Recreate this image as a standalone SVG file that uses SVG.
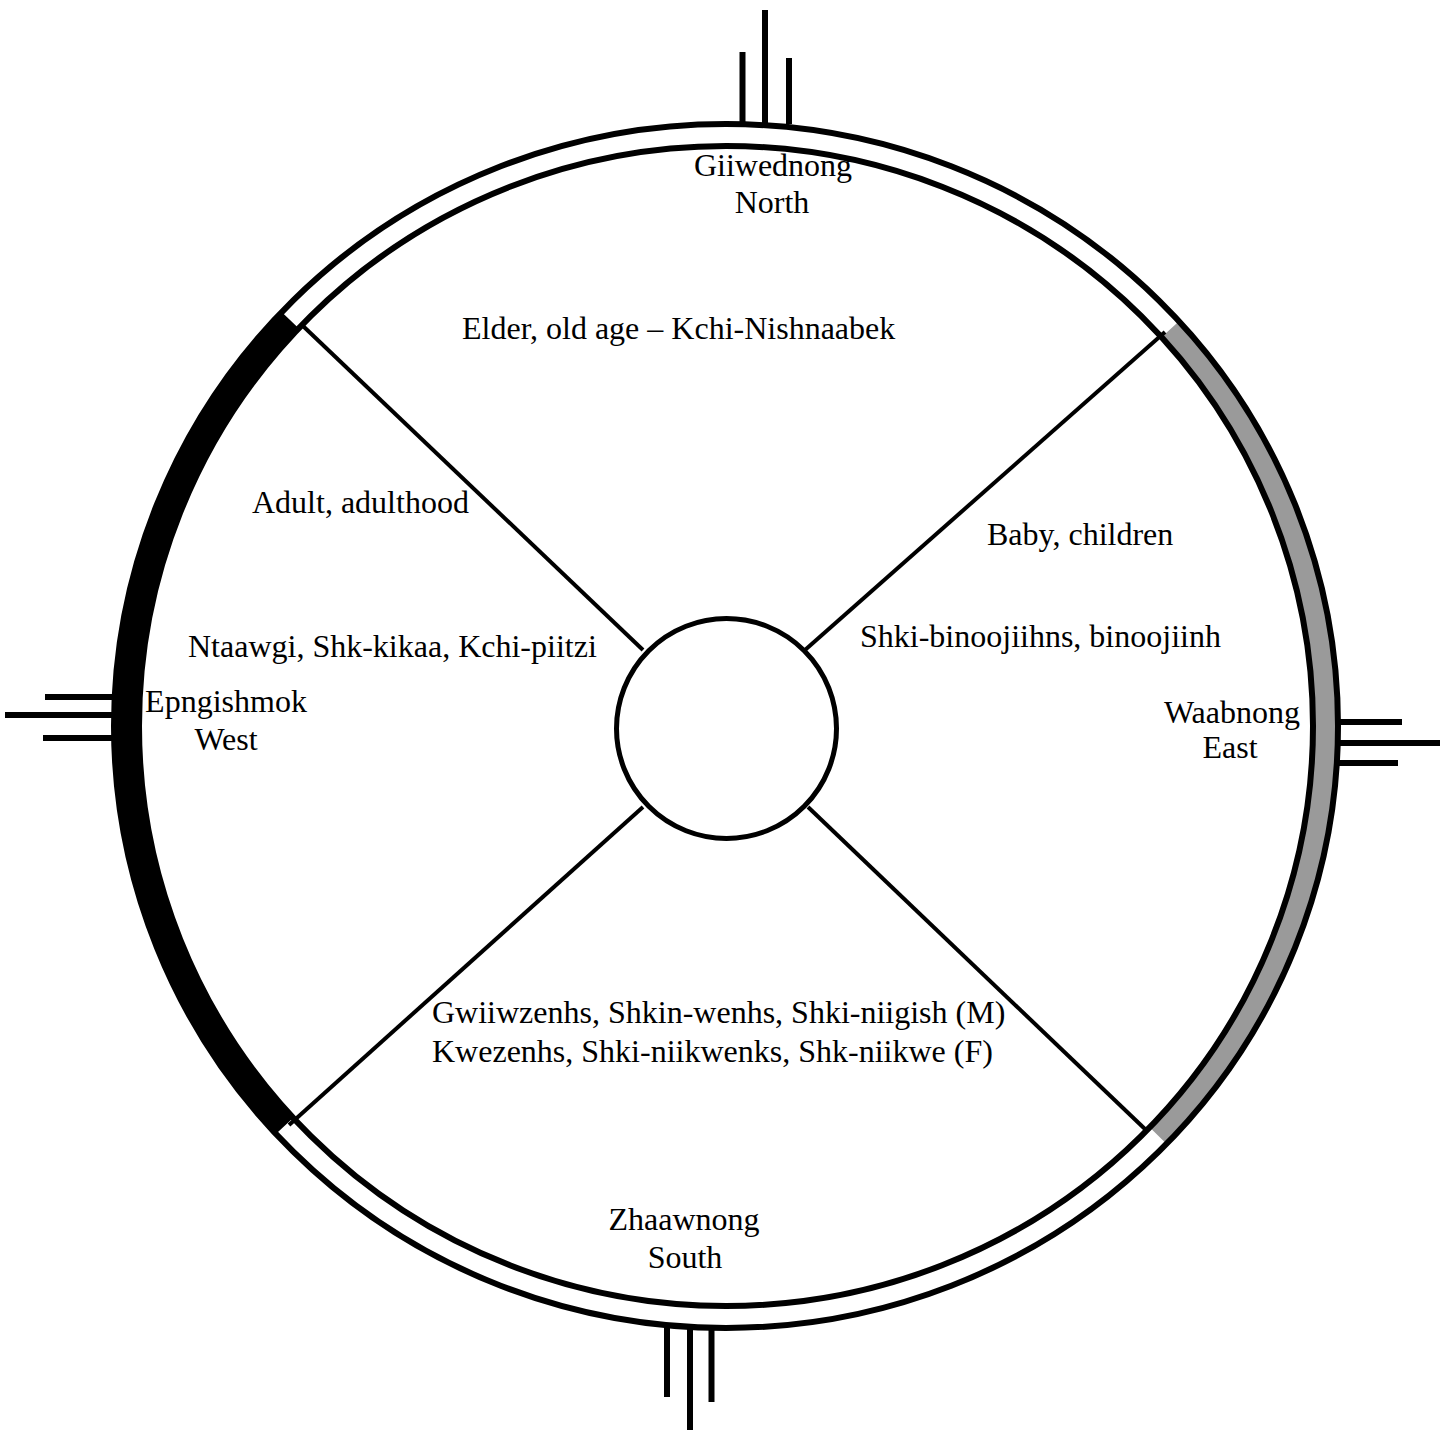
<svg xmlns="http://www.w3.org/2000/svg" width="1451" height="1430" viewBox="0 0 1451 1430">
  <style>
    .lbl { font-family: "Liberation Serif", "Times New Roman", serif; font-size: 32px; fill: #000; }
    .ln { stroke: #000; fill: none; }
    .spike { stroke: #000; stroke-width: 6; fill: none; }
    .diag { stroke: #000; stroke-width: 4; fill: none; }
  </style>
  <rect x="0" y="0" width="1451" height="1430" fill="#fff"/>

  <g id="ring">
    <path id="west-band" d="M290.4,320.3 A599.5,590.5 0 0 0 284.7,1125.7" stroke="#000" stroke-width="25" fill="none"/>
    <path id="east-band" d="M1170.1,329.4 A599.5,590.5 0 0 1 1158,1135.5" stroke="#9a9a9a" stroke-width="22" fill="none"/>
    <ellipse class="ln" cx="726" cy="726" rx="612" ry="602" stroke-width="6"/>
    <ellipse class="ln" cx="726" cy="726" rx="587" ry="580" stroke-width="6"/>
  </g>

  <g id="spikes">
    <line class="spike" x1="742.5" y1="52" x2="742.5" y2="124"/>
    <line class="spike" x1="765" y1="10" x2="765" y2="124"/>
    <line class="spike" x1="789" y1="58" x2="789" y2="124"/>
    <line class="spike" x1="667" y1="1326" x2="667" y2="1397"/>
    <line class="spike" x1="690" y1="1326" x2="690" y2="1430"/>
    <line class="spike" x1="711.5" y1="1326" x2="711.5" y2="1402"/>
    <line class="spike" x1="45" y1="697" x2="116" y2="697"/>
    <line class="spike" x1="5" y1="715" x2="116" y2="715"/>
    <line class="spike" x1="43" y1="738" x2="116" y2="738"/>
    <line class="spike" x1="1336" y1="722" x2="1402" y2="722"/>
    <line class="spike" x1="1336" y1="743" x2="1440" y2="743"/>
    <line class="spike" x1="1336" y1="763" x2="1398" y2="763"/>
  </g>

  <g id="connectors">
    <line class="diag" x1="303" y1="326" x2="643" y2="650"/>
    <line class="diag" x1="1165" y1="332" x2="805" y2="650"/>
    <line class="diag" x1="289" y1="1125" x2="643" y2="807"/>
    <line class="diag" x1="1146" y1="1130" x2="808" y2="807"/>
  </g>

  <g id="center">
    <circle class="ln" cx="726.5" cy="728.5" r="110" stroke-width="5"/>
  </g>

  <g id="north">
    <text class="lbl" x="773" y="176" text-anchor="middle">Giiwednong</text>
    <text class="lbl" x="772" y="213" text-anchor="middle">North</text>
  </g>
  <g id="elder">
    <text class="lbl" x="462" y="339">Elder, old age – Kchi-Nishnaabek</text>
  </g>
  <g id="adult">
    <text class="lbl" x="252" y="513">Adult, adulthood</text>
  </g>
  <g id="adult-terms">
    <text class="lbl" x="188" y="657">Ntaawgi, Shk-kikaa, Kchi-piitzi</text>
  </g>
  <g id="baby">
    <text class="lbl" x="987" y="545">Baby, children</text>
  </g>
  <g id="baby-terms">
    <text class="lbl" x="860" y="647">Shki-binoojiihns, binoojiinh</text>
  </g>
  <g id="west">
    <text class="lbl" x="226" y="712" text-anchor="middle">Epngishmok</text>
    <text class="lbl" x="226" y="750" text-anchor="middle">West</text>
  </g>
  <g id="east">
    <text class="lbl" x="1232" y="723" text-anchor="middle">Waabnong</text>
    <text class="lbl" x="1230" y="758" text-anchor="middle">East</text>
  </g>
  <g id="youth">
    <text class="lbl" x="432" y="1023">Gwiiwzenhs, Shkin-wenhs, Shki-niigish (M)</text>
    <text class="lbl" x="432" y="1062">Kwezenhs, Shki-niikwenks, Shk-niikwe (F)</text>
  </g>
  <g id="south">
    <text class="lbl" x="684" y="1230" text-anchor="middle">Zhaawnong</text>
    <text class="lbl" x="685" y="1268" text-anchor="middle">South</text>
  </g>
</svg>
